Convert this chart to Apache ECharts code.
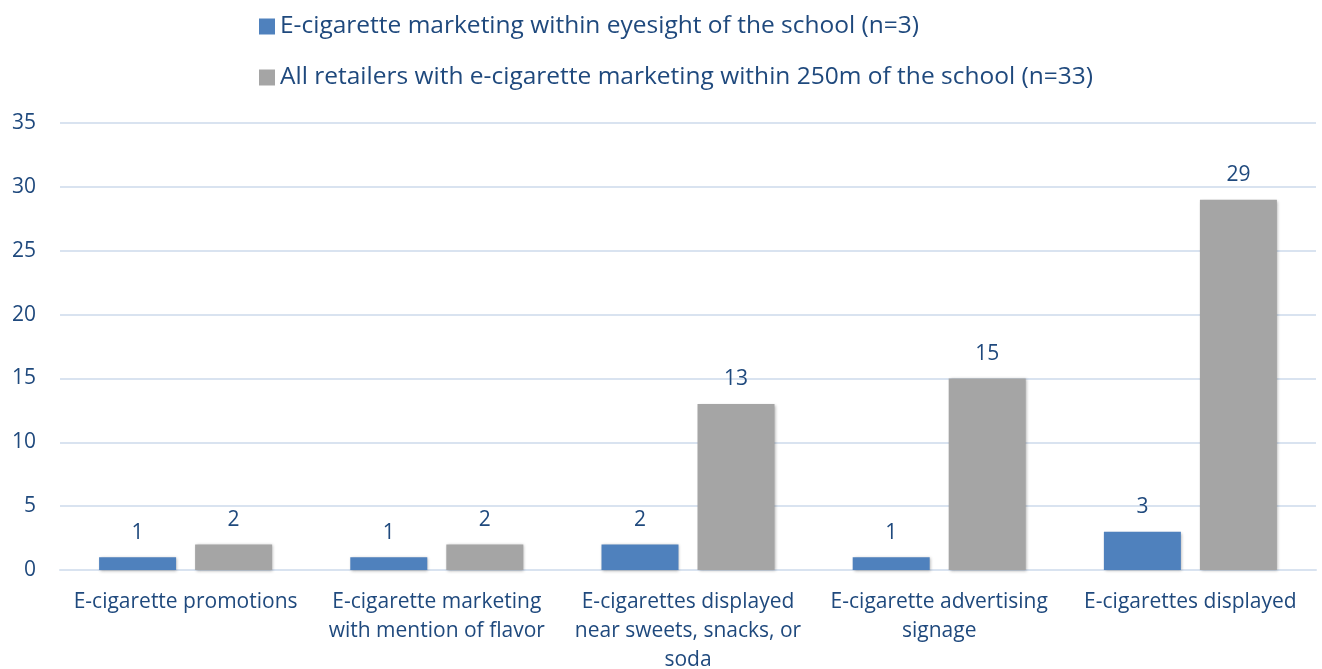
<!DOCTYPE html>
<html><head><meta charset="utf-8">
<script src="https://cdn.jsdelivr.net/npm/echarts@6/dist/echarts.min.js"></script>
<style>html,body{margin:0;padding:0;background:#fff}#c{width:1322px;height:669px}</style>
</head><body><div id="c"></div>
<script>
const categories = [
  "E-cigarette promotions",
  "E-cigarette marketing\nwith mention of flavor",
  "E-cigarettes displayed\nnear sweets, snacks, or\nsoda",
  "E-cigarette advertising\nsignage",
  "E-cigarettes displayed"
];
const seriesNames = [
  "E-cigarette marketing within eyesight of the school (n=3)",
  "All retailers with e-cigarette marketing within 250m of the school (n=33)"
];
const eyesight = [1, 1, 2, 1, 3];
const within250 = [2, 2, 13, 15, 29];
const yTicks = {min: 0, max: 35, interval: 5};

const FONT = "Open Sans";
const TXT = "#1F497D";
const chart = echarts.init(document.getElementById('c'), null, {renderer: 'canvas'});
const barStyle = (c) => ({color: c, shadowColor: 'rgba(0,0,0,0.3)', shadowBlur: 3, shadowOffsetX: 1, shadowOffsetY: 1});
const legendText = {color: TXT, fontFamily: FONT, fontSize: 24.5};
const labelStyle = {show: true, position: 'top', distance: 14, color: TXT, fontFamily: FONT, fontSize: 21};
chart.setOption({
  animation: false,
  textStyle: {fontFamily: FONT},
  legend: [
    {data: [seriesNames[0]], left: 254, top: 9, itemWidth: 16, itemHeight: 16, icon: 'rect', textStyle: legendText},
    {data: [seriesNames[1]], left: 254, top: 60, itemWidth: 16, itemHeight: 16, icon: 'rect', textStyle: legendText}
  ],
  grid: {left: 60, right: 6, top: 123, bottom: 99, containLabel: false, outerBoundsMode: 'none'},
  xAxis: {
    type: 'category', data: categories,
    axisLine: {show: true, lineStyle: {color: '#D9E3F0', width: 2}},
    axisTick: {show: false},
    axisLabel: {color: TXT, fontFamily: FONT, fontSize: 21, lineHeight: 29, margin: 18, interval: 0}
  },
  yAxis: {
    type: 'value', min: yTicks.min, max: yTicks.max, interval: yTicks.interval,
    axisLine: {show: false}, axisTick: {show: false},
    axisLabel: {color: TXT, fontFamily: FONT, fontSize: 21, margin: 24},
    splitLine: {lineStyle: {color: '#D9E3F0', width: 2}}
  },
  series: [
    {name: seriesNames[0], type: 'bar', data: eyesight, barWidth: 77, barGap: '24.7%',
     itemStyle: barStyle('#4F81BD'), label: labelStyle},
    {name: seriesNames[1], type: 'bar', data: within250, barWidth: 77,
     itemStyle: barStyle('#A5A5A5'), label: labelStyle}
  ]
});
</script></body></html>
